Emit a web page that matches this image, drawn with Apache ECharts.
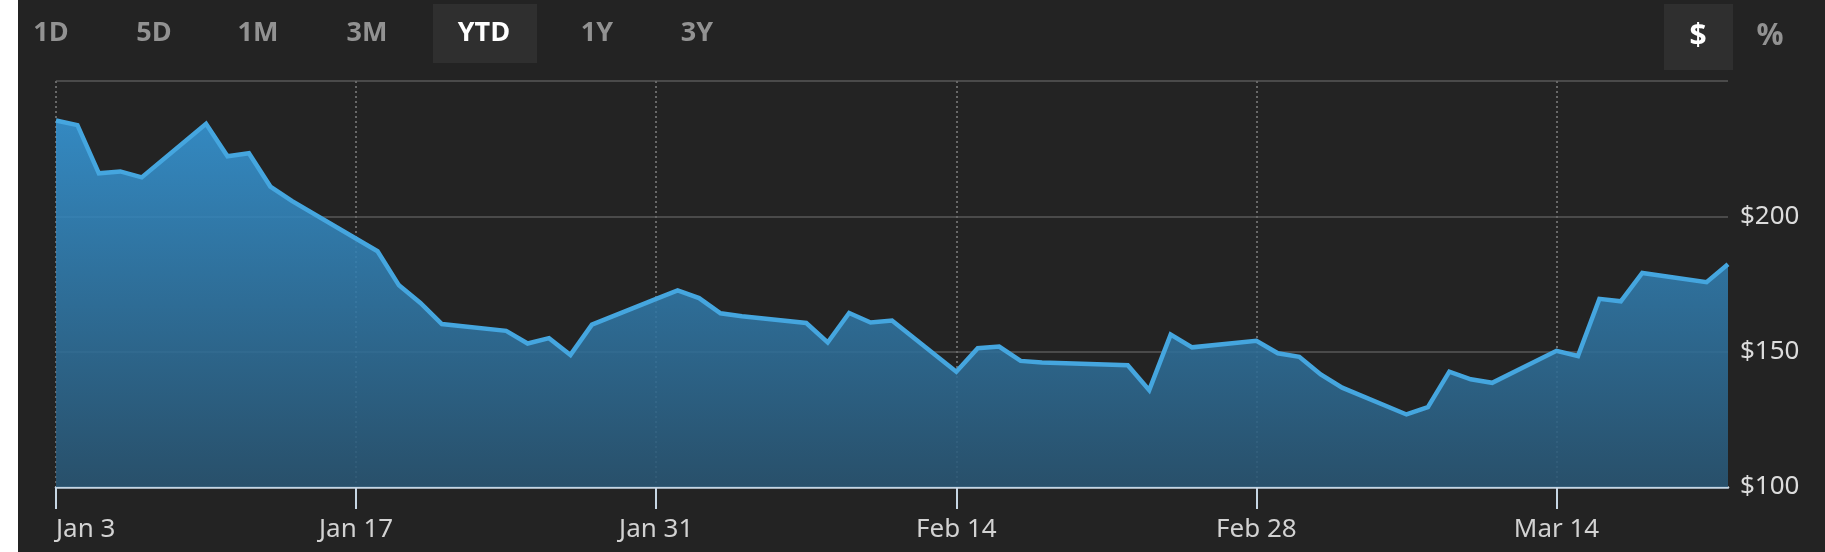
<!DOCTYPE html>
<html>
<head>
<meta charset="utf-8">
<script src="https://cdn.jsdelivr.net/npm/echarts@6/dist/echarts.min.js"></script>
<style>
html,body{margin:0;padding:0;background:#ffffff;width:1825px;height:552px;overflow:hidden;}
#chart{position:absolute;left:18px;top:0;width:1807px;height:552px;background:#232323;}
</style>
</head>
<body>
<div id="chart"></div>
<script>
// ---- data ----
const dates = [
  '2022-01-03','2022-01-04','2022-01-05','2022-01-06','2022-01-07',
  '2022-01-10','2022-01-11','2022-01-12','2022-01-13','2022-01-14',
  '2022-01-18','2022-01-19','2022-01-20','2022-01-21',
  '2022-01-24','2022-01-25','2022-01-26','2022-01-27','2022-01-28',
  '2022-01-31','2022-02-01','2022-02-02','2022-02-03','2022-02-04',
  '2022-02-07','2022-02-08','2022-02-09','2022-02-10','2022-02-11',
  '2022-02-14','2022-02-15','2022-02-16','2022-02-17','2022-02-18',
  '2022-02-22','2022-02-23','2022-02-24','2022-02-25',
  '2022-02-28','2022-03-01','2022-03-02','2022-03-03','2022-03-04',
  '2022-03-07','2022-03-08','2022-03-09','2022-03-10','2022-03-11',
  '2022-03-14','2022-03-15','2022-03-16','2022-03-17','2022-03-18',
  '2022-03-21','2022-03-22'
];
const prices = [
  235.4,233.7,215.9,216.6,214.4,
  234.2,222.2,223.3,211.0,205.7,
  187.1,174.5,168.0,160.2,
  157.7,153.0,155.0,148.8,160.0,
  169.5,172.6,169.8,164.2,163.1,
  160.6,153.4,164.3,160.8,161.5,
  142.6,151.3,151.9,146.6,146.0,
  145.0,135.8,156.3,151.6,
  154.0,149.4,148.1,141.6,136.7,
  126.8,129.5,142.6,139.8,138.5,
  150.3,148.4,169.5,168.6,179.1,
  175.7,182.3
];
const xTickDates = ['2022-01-03','2022-01-17','2022-01-31','2022-02-14','2022-02-28','2022-03-14'];
const xTickLabels = ['Jan 3','Jan 17','Jan 31','Feb 14','Feb 28','Mar 14'];
const xEndDate = '2022-03-22';
const yTicks = [100,150,200,250];
const yTickLabels = ['$100','$150','$200',''];
const rangeButtons = ['1D','5D','1M','3M','YTD','1Y','3Y'];
const activeRange = 'YTD';
const unitButtons = ['$','%'];
const activeUnit = '$';

// ---- helpers ----
const DAY = 86400000;
const base = Date.parse(dates[0] + 'T00:00:00Z');
const dayOf = s => Math.round((Date.parse(s + 'T00:00:00Z') - base) / DAY);
const seriesData = dates.map((d, i) => [dayOf(d), prices[i]]);
const xTickVals = xTickDates.map(dayOf);
const xMax = dayOf(xEndDate);

const OX = 18; // container offset
const btnX = [51,154,258,367,484,597,697];
const graphics = [];
rangeButtons.forEach((b, i) => {
  if (b === activeRange) {
    graphics.push({type:'rect', shape:{x:433-OX, y:4, width:104, height:59}, style:{fill:'#2f2f2f'}, silent:true});
  }
  graphics.push({type:'text', x:btnX[i]-OX, y:33, style:{text:b, fill: b===activeRange?'#ffffff':'#929292',
    font:'bold 27px "Open Sans"', align:'center', verticalAlign:'middle'}, silent:true});
});
const unitX = [1698,1770];
unitButtons.forEach((u, i) => {
  if (u === activeUnit) {
    graphics.push({type:'rect', shape:{x:1664-OX, y:4, width:69, height:66}, style:{fill:'#2f2f2f'}, silent:true});
  }
  graphics.push({type:'text', x:unitX[i]-OX, y:36, style:{text:u, fill: u===activeUnit?'#ffffff':'#929292',
    font:'bold 30px "Open Sans"', align:'center', verticalAlign:'middle'}, silent:true});
});

const chart = echarts.init(document.getElementById('chart'), null, {renderer:'canvas'});
chart.setOption({
  backgroundColor:'#232323',
  animation:false,
  graphic: graphics,
  grid:{left:56-OX, right:97, top:81, bottom:65, containLabel:false},
  xAxis:{
    type:'value', min:0, max:xMax, interval:14,
    axisLine:{show:true, onZero:false, lineStyle:{color:'#c6d6e4', width:2.5}},
    axisTick:{show:true, length:22, customValues:xTickVals, lineStyle:{color:'#c6d6e4', width:2}},
    axisLabel:{show:true, customValues:xTickVals, margin:30, color:'#d2d2d2', fontSize:26,
      fontFamily:'"Noto Sans"', alignMinLabel:'left',
      formatter: v => { const k = xTickVals.indexOf(v); return k >= 0 ? xTickLabels[k] : ''; }},
    splitLine:{show:true, lineStyle:{color:'#686868', width:2, type:[2,3]}}
  },
  yAxis:{
    type:'value', position:'right', min:yTicks[0], max:yTicks[yTicks.length-1], interval:50,
    axisLine:{show:false}, axisTick:{show:false},
    axisLabel:{margin:12, color:'#dcdcdc', fontSize:26, fontFamily:'"Noto Sans"',
      formatter: v => { const k = yTicks.indexOf(v); return k >= 0 ? yTickLabels[k] : ''; }},
    splitLine:{show:true, lineStyle:{color:'#4a4a4a', width:2}}
  },
  series:[{
    type:'line', data:seriesData, showSymbol:false, silent:true,
    lineStyle:{color:'#45a6df', width:4.5, join:'miter'},
    areaStyle:{
      opacity:1,
      color:new echarts.graphic.LinearGradient(0,0,0,1,[
        {offset:0, color:'rgba(54,151,215,0.88)'},
        {offset:1, color:'rgba(41,86,116,0.88)'}
      ])
    }
  }]
});
</script>
</body>
</html>
